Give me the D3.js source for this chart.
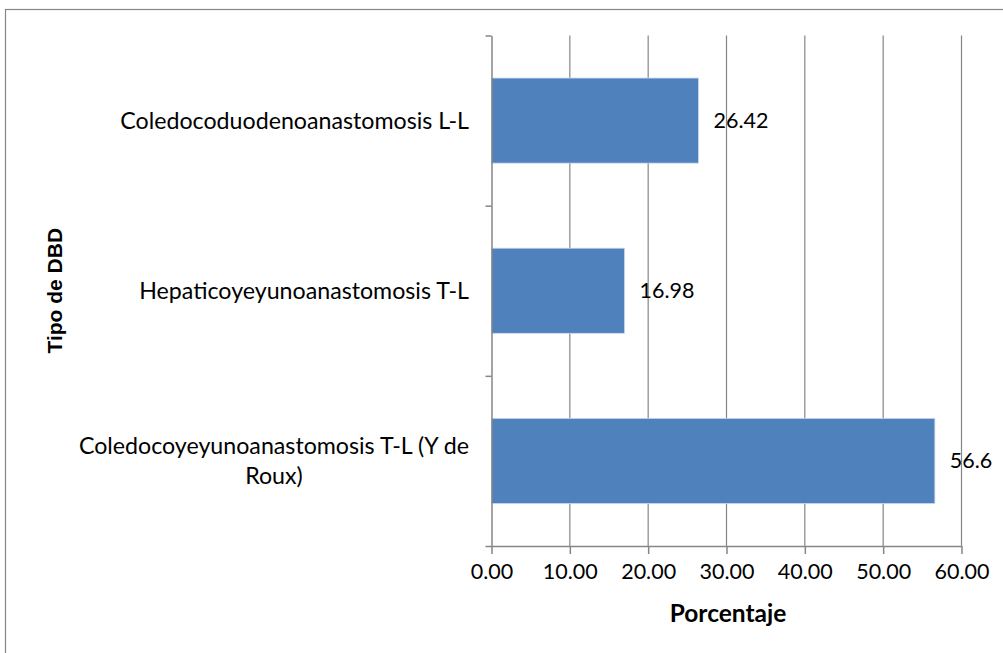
<!DOCTYPE html>
<html><head><meta charset="utf-8">
<script src="https://cdn.jsdelivr.net/npm/d3@7"></script>
<style>body{margin:0;background:#fff;overflow:hidden}</style>
</head><body>
<svg id="chart" width="1003" height="653"></svg>
<script>
const categories = ["Coledocoduodenoanastomosis L-L", "Hepaticoyeyunoanastomosis T-L", "Coledocoyeyunoanastomosis T-L (Y de Roux)"];
const values = [26.42, 16.98, 56.6];
const valueLabels = ["26.42", "16.98", "56.6"];
const xTicks = [0, 10, 20, 30, 40, 50, 60];
const xTitle = "Porcentaje";
const yTitle = "Tipo de DBD";

const FONT = "Lato, 'Open Sans', sans-serif";
const FS = 21.5;
const FS_CAT = 23.2;
const GRAY = "#868686";

const svg = d3.select("#chart");
// outer frame
svg.append("rect").attr("x", 5.5).attr("y", 9.5).attr("width", 1100).attr("height", 700)
  .attr("fill", "none").attr("stroke", GRAY).attr("stroke-width", 1.2);

const x = d3.scaleLinear().domain([0, 60]).range([491.5, 961.5]);
const y = d3.scaleBand().domain(categories).range([35.5, 546]).paddingInner(0.5).paddingOuter(0.25);
const yb = d3.scaleLinear().domain([0, categories.length]).range([35.5, 546]);

// gridlines
svg.append("g").selectAll("line").data(xTicks.slice(1)).join("line")
  .attr("x1", d => x(d)).attr("x2", d => x(d)).attr("y1", 35.5).attr("y2", 546)
  .attr("stroke", GRAY).attr("stroke-width", 1.2);

// bars
svg.append("g").selectAll("rect").data(values).join("rect")
  .attr("x", x(0)).attr("y", (d, i) => y(categories[i]))
  .attr("width", d => x(d) - x(0)).attr("height", y.bandwidth())
  .attr("fill", "#4F81BD").attr("stroke", "#c9d8ec").attr("stroke-width", 0.8);

// y axis (ticks at category boundaries)
const yAxis = svg.append("g").attr("transform", `translate(${x(0)},0)`)
  .call(d3.axisLeft(yb).tickValues(d3.range(categories.length + 1)).tickSize(6).tickSizeOuter(0).tickFormat(""));
yAxis.selectAll("path,line").attr("stroke", GRAY).attr("stroke-width", 1.5);

// x axis
const xAxis = svg.append("g").attr("transform", `translate(0,546)`)
  .call(d3.axisBottom(x).tickValues(xTicks).tickSize(8).tickSizeOuter(0).tickPadding(10).tickFormat(d3.format(".2f")));
xAxis.selectAll("path,line").attr("stroke", GRAY).attr("stroke-width", 1.5);
xAxis.selectAll("text").attr("font-family", FONT).attr("font-size", FS).attr("fill", "#000")
  .attr("dy", "0.71em");

// category labels (wrapped, centered block right-aligned)
const measure = svg.append("text").attr("font-family", FONT).attr("font-size", FS_CAT).attr("visibility", "hidden");
function textW(s) { measure.text(s); return measure.node().getComputedTextLength(); }
const maxW = 420;
const lineH = 30;
const labelRight = 469;
categories.forEach((c, i) => {
  const words = c.split(" ");
  const lines = [];
  let cur = "";
  words.forEach(w => {
    const t = cur ? cur + " " + w : w;
    if (cur && textW(t) > maxW) { lines.push(cur); cur = w; } else cur = t;
  });
  lines.push(cur);
  const bw = d3.max(lines, textW);
  const cx = labelRight - bw / 2;
  const cy = y(c) + y.bandwidth() / 2;
  const t = svg.append("text").attr("font-family", FONT).attr("font-size", FS_CAT).attr("fill", "#000")
    .attr("text-anchor", "middle");
  lines.forEach((l, k) => {
    t.append("tspan").attr("x", cx)
      .attr("y", cy + (k - (lines.length - 1) / 2) * lineH).attr("dy", "0.35em").text(l);
  });
});
measure.remove();

// value labels
svg.append("g").selectAll("text").data(values).join("text")
  .attr("x", d => x(d) + 15).attr("y", (d, i) => y(categories[i]) + y.bandwidth() / 2)
  .attr("dy", "0.35em").attr("font-family", FONT).attr("font-size", FS).attr("fill", "#000")
  .text((d, i) => valueLabels[i]);

// axis titles
svg.append("text").attr("x", 728).attr("y", 622).attr("text-anchor", "middle")
  .attr("font-family", FONT).attr("font-weight", "bold").attr("font-size", 24.5).attr("fill", "#000").text(xTitle);
svg.append("text").attr("transform", `translate(62,${(35.5 + 546) / 2}) rotate(-90)`).attr("text-anchor", "middle")
  .attr("font-family", "'Liberation Sans', Arial, sans-serif").attr("font-weight", "bold").attr("font-size", 21)
  .attr("fill", "#000").text(yTitle);
</script>
</body></html>
